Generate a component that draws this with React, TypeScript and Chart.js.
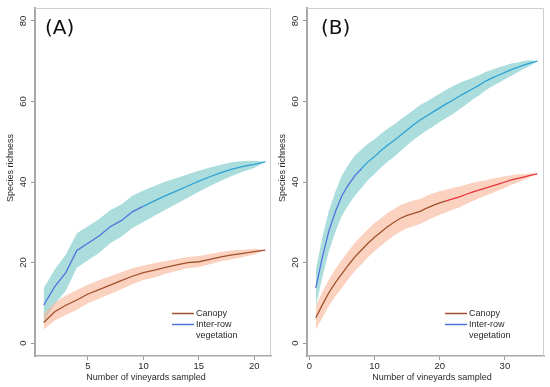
import React, { useEffect, useRef } from "react";
import { Chart, registerables } from "chart.js";
Chart.register(...registerables);

// ---------- Panel A data ----------
const sampledA = [1, 2, 3, 4, 5, 6, 7, 8, 9, 10, 11, 12, 13, 14, 15, 16, 17, 18, 19, 20, 21];
const canopyMeanA = [5.1, 7.8, 9.4, 10.7, 12.2, 13.3, 14.4, 15.5, 16.6, 17.5, 18.1, 18.8, 19.4, 20, 20.2, 20.8, 21.4, 21.9, 22.3, 22.7, 23.1];
const canopyUpperA = [7.3, 10, 11.8, 13.2, 14.5, 15.6, 16.6, 17.6, 18.6, 19.3, 19.9, 20.4, 20.9, 21.4, 21.6, 22.1, 22.6, 23, 23.2, 23.4, 23.1];
const canopyLowerA = [3.4, 5.6, 7, 8.3, 9.9, 11, 12.2, 13.4, 14.6, 15.7, 16.3, 17.2, 17.9, 18.6, 18.9, 19.6, 20.3, 20.8, 21.4, 22, 23.1];
const interMeanA = [9.4, 14, 17.5, 23, 24.8, 26.6, 28.9, 30.4, 32.6, 34, 35.3, 36.6, 37.8, 39, 40.2, 41.3, 42.3, 43.2, 43.9, 44.4, 45];
const interUpperA = [13.6, 18.3, 22, 27.3, 29, 30.8, 33, 34.4, 36.6, 37.9, 39, 40.1, 41, 41.9, 42.8, 43.6, 44.3, 44.9, 45.2, 45.3, 45];
const interLowerA = [5.2, 9.7, 13, 18.7, 20.6, 22.4, 24.8, 26.4, 28.6, 30.1, 31.6, 33.1, 34.6, 36.1, 37.6, 39, 40.3, 41.5, 42.6, 43.5, 45];
const xTicksA = [5, 10, 15, 20];

// ---------- Panel B data ----------
const sampledB = [1, 2, 3, 4, 5, 6, 7, 8, 9, 10, 11, 12, 13, 14, 15, 16, 17, 18, 19, 20, 21, 22, 23, 24, 25, 26, 27, 28, 29, 30, 31, 32, 33, 34, 35];
const canopyMeanB = [6.3, 9.5, 12.5, 15, 17.2, 19.4, 21.4, 23.1, 24.8, 26.3, 27.6, 28.9, 30, 31, 31.7, 32.2, 32.7, 33.5, 34.2, 34.8, 35.3, 35.8, 36.3, 36.9, 37.5, 38, 38.5, 39, 39.5, 40, 40.5, 40.9, 41.3, 41.7, 42];
const canopyUpperB = [9.3, 12.7, 15.8, 18.4, 20.7, 22.9, 24.9, 26.6, 28.3, 29.8, 31, 32.3, 33.3, 34.3, 34.9, 35.4, 35.8, 36.6, 37.2, 37.7, 38.1, 38.5, 38.9, 39.3, 39.8, 40.1, 40.4, 40.8, 41.1, 41.4, 41.7, 41.9, 42, 42.1, 42];
const canopyLowerB = [3.3, 6.3, 9.2, 11.6, 13.7, 15.9, 17.9, 19.6, 21.3, 22.8, 24.2, 25.5, 26.7, 27.7, 28.5, 29, 29.6, 30.4, 31.2, 31.9, 32.5, 33.1, 33.7, 34.5, 35.2, 35.9, 36.6, 37.2, 37.9, 38.6, 39.3, 39.9, 40.6, 41.3, 42];
const interMeanB = [13.7, 21.3, 27.8, 32.6, 36.6, 39.3, 41.6, 43.3, 45, 46.3, 47.8, 49.1, 50.3, 51.6, 52.9, 54.2, 55.4, 56.4, 57.4, 58.4, 59.4, 60.3, 61.3, 62.2, 63.1, 64, 65, 65.8, 66.5, 67.2, 67.9, 68.5, 69.1, 69.6, 70];
const interUpperB = [18.2, 26.3, 32.8, 37.6, 41.6, 44.3, 46.6, 48.1, 49.5, 50.6, 52, 53.2, 54.3, 55.5, 56.7, 57.9, 59.1, 60, 61, 61.9, 62.9, 63.8, 64.6, 65.2, 65.8, 66.5, 67.3, 67.9, 68.4, 68.9, 69.4, 69.7, 70.1, 70.2, 70];
const interLowerB = [9.2, 16.3, 22.8, 27.6, 31.6, 34.3, 36.6, 38.5, 40.5, 42, 43.6, 45, 46.3, 47.7, 49.1, 50.5, 51.7, 52.8, 53.8, 54.9, 55.9, 56.8, 58, 59.2, 60.4, 61.5, 62.7, 63.7, 64.6, 65.5, 66.4, 67.3, 68.1, 69, 70];
const xTicksB = [0, 10, 20, 30];

const yTicks = [0, 20, 40, 60, 80];
const legendLabels = ["Canopy", "Inter-row", "vegetation"];
const xTitle = "Number of vineyards sampled";
const yTitle = "Species richness";

const FONT = "'Liberation Sans', Arial, Helvetica, sans-serif";
const TEXT = "#2a2a2a";
const CANOPY = "#a0522d";
const CANOPY_RED = "#e8333a";
const INTER_A = "#4f74dc";
const INTER_B = "#2ea2d4";
const TEAL = "rgba(150,212,212,0.8)";
const SALMON = "rgba(248,178,148,0.6)";

type PanelProps = {
  left: number;
  label: string;
  xs: number[];
  cMean: number[];
  cUp: number[];
  cLo: number[];
  iMean: number[];
  iUp: number[];
  iLo: number[];
  xTicks: number[];
  xMin: number;
  xMax: number;
  axisLeft: number;
  padRight: number;
  redFrom: number;
  blueUntil: number;
  labelX: number;
  yTitleX: number;
  xTitleX: number;
  legendX: number;
};

const pts = (xs: number[], ys: number[]) => xs.map((x, i) => ({ x, y: ys[i] }));

function Panel(p: PanelProps) {
  const ref = useRef<HTMLCanvasElement | null>(null);
  useEffect(() => {
    if (!ref.current) return;
    const textPlugin = {
      id: "texts",
      afterDatasetsDraw(chart: any) {
        const ctx = chart.ctx;
        const a = chart.chartArea;
        ctx.save();
        // box
        ctx.strokeStyle = "#cfcfcf";
        ctx.lineWidth = 1;
        ctx.beginPath();
        ctx.moveTo(a.left, a.top + 0.5);
        ctx.lineTo(a.right - 0.5, a.top + 0.5);
        ctx.lineTo(a.right - 0.5, a.bottom);
        ctx.stroke();
        // panel label
        ctx.fillStyle = "#111";
        ctx.font = "20px 'DejaVu Sans', sans-serif";
        ctx.textAlign = "left";
        ctx.textBaseline = "alphabetic";
        ctx.fillText(p.label, p.labelX, 34);
        // legend
        ctx.font = `9px ${FONT}`;
        ctx.fillStyle = TEXT;
        ctx.textBaseline = "middle";
        const lx = p.legendX;
        const rows = [313.5, 324.5, 335.5];
        ctx.lineWidth = 1.5;
        ctx.strokeStyle = CANOPY;
        ctx.beginPath();
        ctx.moveTo(lx, rows[0]);
        ctx.lineTo(lx + 22, rows[0]);
        ctx.stroke();
        ctx.strokeStyle = INTER_A;
        ctx.beginPath();
        ctx.moveTo(lx, rows[1]);
        ctx.lineTo(lx + 22, rows[1]);
        ctx.stroke();
        legendLabels.forEach((t, i) => ctx.fillText(t, lx + 24, rows[i]));
        // axis titles
        ctx.textAlign = "center";
        ctx.fillText(xTitle, p.xTitleX, 378);
        ctx.translate(p.yTitleX, 168);
        ctx.rotate(-Math.PI / 2);
        ctx.fillText(yTitle, 0, 0);
        ctx.restore();
      },
    };
    const lineSeg = (fn: (x: number) => string) => ({
      borderColor: (c: any) => fn(c.p0.parsed.x),
    });
    const chart = new Chart(ref.current, {
      type: "line",
      data: {
        datasets: [
          {
            data: pts(p.xs, p.cMean),
            borderColor: CANOPY,
            borderWidth: 1.3,
            pointRadius: 0,
            fill: false,
            segment: lineSeg((x) => (x >= p.redFrom ? CANOPY_RED : CANOPY)),
          },
          {
            data: pts(p.xs, p.iMean),
            borderColor: INTER_B,
            borderWidth: 1.3,
            pointRadius: 0,
            fill: false,
            segment: lineSeg((x) => (x < p.blueUntil ? INTER_A : INTER_B)),
          },
          { data: pts(p.xs, p.cUp), borderWidth: 0, pointRadius: 0, backgroundColor: SALMON, fill: "+1" },
          { data: pts(p.xs, p.cLo), borderWidth: 0, pointRadius: 0, fill: false },
          { data: pts(p.xs, p.iUp), borderWidth: 0, pointRadius: 0, backgroundColor: TEAL, fill: "+1" },
          { data: pts(p.xs, p.iLo), borderWidth: 0, pointRadius: 0, fill: false },
        ],
      },
      options: {
        animation: false,
        responsive: false,
        devicePixelRatio: 1,
        layout: { padding: { top: 8, right: p.padRight, left: 0, bottom: 0 } },
        plugins: { legend: { display: false }, tooltip: { enabled: false } },
        elements: { line: { tension: 0 } },
        scales: {
          x: {
            type: "linear",
            min: p.xMin,
            max: p.xMax,
            afterFit: (s: any) => {
              s.height = 31;
            },
            afterBuildTicks: (s: any) => {
              s.ticks = p.xTicks.map((v) => ({ value: v }));
            },
            grid: { display: true, drawOnChartArea: false, drawTicks: true, tickLength: 4, color: "#9a9a9a" },
            border: { display: true, color: "#a8a8a8", width: 1.5 },
            ticks: {
              color: TEXT,
              font: { family: FONT, size: 9.5 },
              padding: 1,
              maxRotation: 0,
              autoSkip: false,
            },
          },
          y: {
            type: "linear",
            min: -3.2,
            max: 83.2,
            afterFit: (s: any) => {
              s.width = p.axisLeft;
            },
            afterBuildTicks: (s: any) => {
              s.ticks = yTicks.map((v) => ({ value: v }));
            },
            grid: { display: true, drawOnChartArea: false, drawTicks: true, tickLength: 4, color: "#9a9a9a" },
            border: { display: true, color: "#a8a8a8", width: 2 },
            ticks: {
              color: TEXT,
              font: { family: FONT, size: 9.5 },
              padding: 2,
              minRotation: 90,
              maxRotation: 90,
              crossAlign: "center",
              autoSkip: false,
            },
          },
        },
      },
      plugins: [textPlugin],
    } as any);
    return () => chart.destroy();
  }, []);
  return (
    <canvas
      ref={ref}
      width={275}
      height={387}
      style={{ position: "absolute", left: p.left, top: 0, width: 275, height: 387 }}
    />
  );
}

export default function App() {
  return (
    <div style={{ position: "fixed", left: 0, top: 0, width: 550, height: 387, background: "#fff" }}>
      <Panel
        left={0}
        label="(A)"
        xs={sampledA}
        cMean={canopyMeanA}
        cUp={canopyUpperA}
        cLo={canopyLowerA}
        iMean={interMeanA}
        iUp={interUpperA}
        iLo={interLowerA}
        xTicks={xTicksA}
        xMin={0.22}
        xMax={21.51}
        axisLeft={35}
        padRight={4}
        redFrom={99}
        blueUntil={10}
        labelX={45}
        yTitleX={11}
        xTitleX={146}
        legendX={172}
      />
      <Panel
        left={275}
        label="(B)"
        xs={sampledB}
        cMean={canopyMeanB}
        cUp={canopyUpperB}
        cLo={canopyLowerB}
        iMean={interMeanB}
        iUp={interUpperB}
        iLo={interLowerB}
        xTicks={xTicksB}
        xMin={-0.35}
        xMax={36}
        axisLeft={32}
        padRight={6}
        redFrom={21}
        blueUntil={8}
        labelX={46}
        yTitleX={8}
        xTitleX={157}
        legendX={170}
      />
    </div>
  );
}
